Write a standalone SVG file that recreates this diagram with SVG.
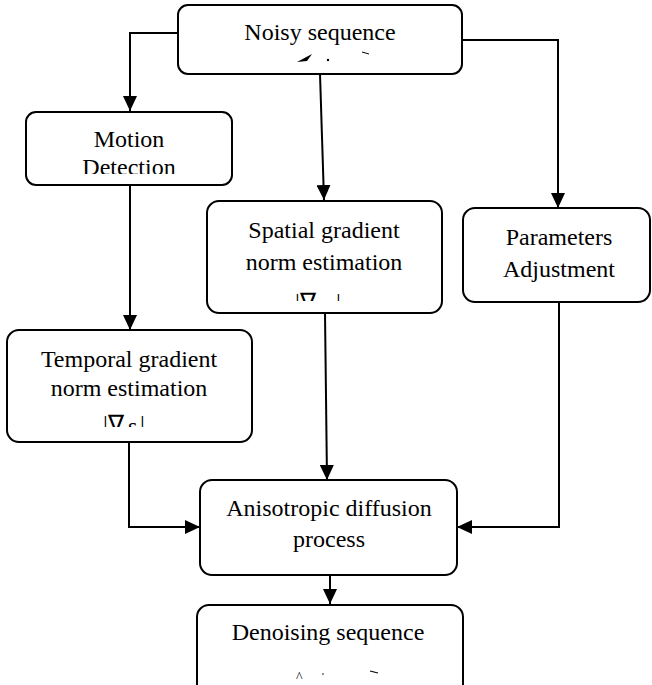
<svg xmlns="http://www.w3.org/2000/svg" width="652" height="685" viewBox="0 0 652 685">
<style>
.box{fill:#fff;stroke:#000;stroke-width:2}
.t{font-family:"Liberation Serif","Times New Roman",serif;font-size:24px;fill:#000;text-anchor:middle}
.f{font-family:"Liberation Serif","Times New Roman",serif;font-size:24px;fill:#000}
.c{fill:none;stroke:#000;stroke-width:2}
</style>
<defs>
<marker id="ah" viewBox="0 0 15 14" refX="15" refY="7" markerWidth="7.5" markerHeight="7" markerUnits="strokeWidth" orient="auto">
<path d="M0,0 L15,7 L0,14 z" fill="#000"/>
</marker>
<clipPath id="cs"><rect x="207" y="200" width="235" height="101"/></clipPath>
<clipPath id="ct"><rect x="7" y="330" width="245" height="97"/></clipPath>
<clipPath id="cm"><rect x="26" y="110" width="206" height="64"/></clipPath>
</defs>
<rect width="652" height="685" fill="#fff"/>
<g id="connectors">
<path class="c" d="M178,33 H130 V111" marker-end="url(#ah)"/>
<path class="c" d="M462,40 H558 V208" marker-end="url(#ah)"/>
<path class="c" d="M320,74 L324,200" marker-end="url(#ah)"/>
<path class="c" d="M130,185 V330" marker-end="url(#ah)"/>
<path class="c" d="M325,313 L327,480" marker-end="url(#ah)"/>
<path class="c" d="M129,442 V527 H200" marker-end="url(#ah)"/>
<path class="c" d="M559,302 V527 H457" marker-end="url(#ah)"/>
<path class="c" d="M330,575 V604" marker-end="url(#ah)"/>
</g>
<g id="noisy">
<rect class="box" x="178" y="5" width="284" height="69" rx="10"/>
<text class="t" x="320" y="40">Noisy sequence</text>
<path d="M297,62 L312,54 L307,61 Z" fill="#000"/>
<circle cx="328" cy="60" r="1.2" fill="#000"/>
<path d="M362,52 L369,54" stroke="#000" stroke-width="1"/>
</g>
<g id="motion">
<rect class="box" x="26" y="112" width="206" height="73" rx="10"/>
<text class="t" x="129" y="147">Motion</text>
<text class="t" x="129" y="175" clip-path="url(#cm)">Detection</text>
</g>
<g id="spatial">
<rect class="box" x="207" y="201" width="235" height="112" rx="12"/>
<text class="t" x="324" y="238">Spatial gradient</text>
<text class="t" x="324" y="270">norm estimation</text>
<g clip-path="url(#cs)">
<text class="f" x="295" y="310">|∇</text>
<text class="f" x="336" y="310">|</text>
</g>
</g>
<g id="params">
<rect class="box" x="463" y="208" width="187" height="94" rx="12"/>
<text class="t" x="559" y="245">Parameters</text>
<text class="t" x="559" y="277">Adjustment</text>
</g>
<g id="temporal">
<rect class="box" x="7" y="330" width="245" height="112" rx="12"/>
<text class="t" x="129" y="367">Temporal gradient</text>
<text class="t" x="129" y="396">norm estimation</text>
<g clip-path="url(#ct)">
<text class="f" x="103" y="432">|∇</text>
<text class="f" x="128" y="434">s</text>
<text class="f" x="140" y="432">|</text>
</g>
</g>
<g id="aniso">
<rect class="box" x="200" y="480" width="257" height="95" rx="12"/>
<text class="t" x="329" y="516">Anisotropic diffusion</text>
<text class="t" x="329" y="547">process</text>
</g>
<g id="denoise">
<rect class="box" x="197" y="605" width="266" height="100" rx="12"/>
<text class="t" x="328" y="640">Denoising sequence</text>
<text x="296" y="682" style="font-family:'Liberation Serif',serif;font-size:14px">^</text>
<circle cx="323" cy="674" r="0.8" fill="#000"/>
<path d="M370,671 L378,673" stroke="#000" stroke-width="1.2"/>
</g>
</svg>
